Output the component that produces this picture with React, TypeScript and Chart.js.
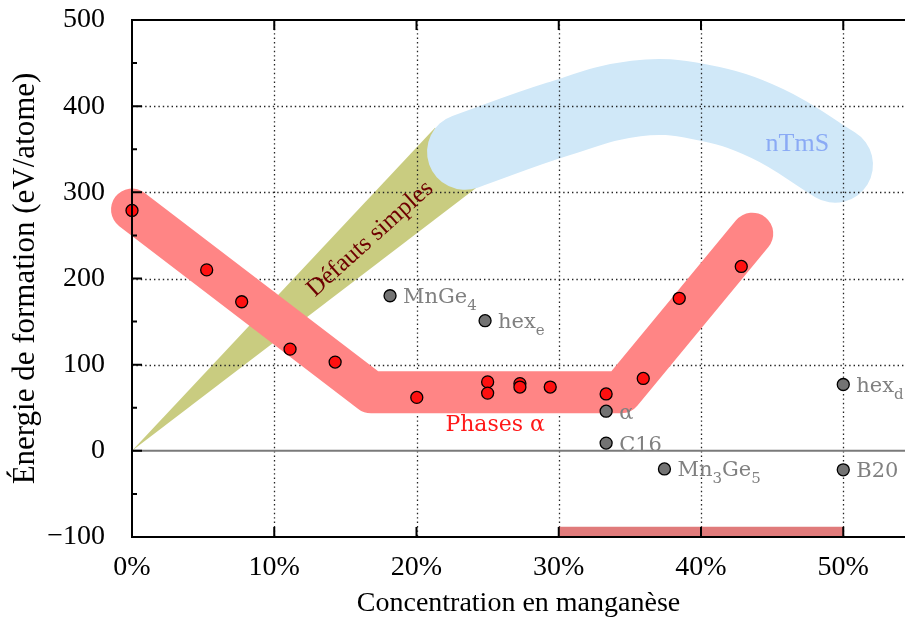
import React, { useEffect, useRef } from 'react';
import { Chart, registerables } from 'chart.js';

Chart.register(...registerables);

// ---- axes ----
const X_TICKS = [0, 0.1, 0.2, 0.3, 0.4, 0.5];
const Y_TICKS = [-100, 0, 100, 200, 300, 400, 500];
const Y_MINOR = [-50, 50, 150, 250, 350, 450];
const X_MIN = 0;
const X_MAX = 0.5434;
const Y_MIN = -100;
const Y_MAX = 500;

// ---- red points (phases alpha) ----
const RED_X = [0, 0.0525, 0.0771, 0.1111, 0.1428, 0.2002, 0.25, 0.25, 0.2727, 0.2727, 0.294, 0.3333, 0.3594, 0.3847, 0.4283];
const RED_Y = [279, 210, 173, 118, 103, 62, 80, 67, 78, 74, 74, 66, 84, 177, 214];

// ---- grey points (other structures) ----
const GREY_X = [0.1814, 0.2482, 0.3333, 0.3333, 0.3743, 0.5, 0.5];
const GREY_Y = [180, 151, 46, 9, -21, 77, -22];
const GREY_LABELS = ['MnGe_4', 'hex_e', 'α', 'C16', 'Mn_3Ge_5', 'hex_d', 'B20'];

// ---- shaded regions ----
const OLIVE_X = [0, 0.213, 0.2342, 0.2467];
const OLIVE_Y = [0, 375, 346, 311];
const BLUE_X = [0.2341, 0.2995, 0.3543, 0.3993, 0.4464, 0.4942];
const BLUE_Y = [347, 385, 409, 405, 380, 332];
const BAND_X = [0, 0.168, 0.344, 0.436];
const BAND_Y = [280, 68, 68, 252];
const BAR_X = [0.3, 0.3, 0.5, 0.5];
const BAR_Y = [-100, -88, -88, -100];

// ---- notes ----
const NOTE_TEXT = ['Phases α', 'nTmS', 'Défauts simples'];
const NOTE_X = [0.2553, 0.4677, 0.1674];
const NOTE_Y = [30, 356, 246];

const BLUE_INDEX = 1;
const SERIF = '"Liberation Serif", "Times New Roman", serif';
const DSERIF = '"DejaVu Serif", serif';

const pts = (xs: number[], ys: number[]) => xs.map((x, i) => ({ x, y: ys[i] }));

function drawRich(ctx: CanvasRenderingContext2D, text: string, x: number, y: number, size: number, sub: number) {
  const runs: { t: string; s: boolean }[] = [];
  for (let i = 0; i < text.length; i++) {
    if (text[i] === '_' && i + 1 < text.length) {
      runs.push({ t: text[i + 1], s: true });
      i++;
    } else {
      const last = runs[runs.length - 1];
      if (last && !last.s) last.t += text[i];
      else runs.push({ t: text[i], s: false });
    }
  }
  let cx = x;
  ctx.textAlign = 'left';
  ctx.textBaseline = 'alphabetic';
  const base = y + size * 0.36;
  for (const r of runs) {
    ctx.font = `${r.s ? sub : size}px ${DSERIF}`;
    ctx.fillText(r.t, cx, r.s ? base + 7 : base);
    cx += ctx.measureText(r.t).width;
  }
}

const noPad = (s: any) => {
  s.paddingTop = 0;
  s.paddingBottom = 0;
  s.paddingLeft = 0;
  s.paddingRight = 0;
};

const layerPlugin = {
  id: 'layers',
  afterDatasetDraw(chart: any, args: any) {
    if (args.index !== BLUE_INDEX) return;
    const { ctx, chartArea: a, scales } = chart;
    const sx = scales.x, sy = scales.y;
    ctx.save();
    ctx.strokeStyle = '#222';
    ctx.lineWidth = 1.3;
    ctx.setLineDash([1.4, 3]);
    for (const v of X_TICKS) {
      if (v <= X_MIN) continue;
      const p = Math.round(sx.getPixelForValue(v)) + 0.5;
      ctx.beginPath();
      ctx.moveTo(p, a.top);
      ctx.lineTo(p, a.bottom);
      ctx.stroke();
    }
    for (const v of Y_TICKS) {
      if (v <= 0 || v >= Y_MAX) continue;
      const p = Math.round(sy.getPixelForValue(v)) + 0.5;
      ctx.beginPath();
      ctx.moveTo(a.left, p);
      ctx.lineTo(a.right, p);
      ctx.stroke();
    }
    ctx.setLineDash([]);
    ctx.strokeStyle = '#7a7a7a';
    ctx.lineWidth = 2;
    const z = sy.getPixelForValue(0);
    ctx.beginPath();
    ctx.moveTo(a.left, z);
    ctx.lineTo(a.right, z);
    ctx.stroke();
    ctx.restore();
  },
  afterDatasetsDraw(chart: any) {
    const { ctx, chartArea: a, scales } = chart;
    const sx = scales.x, sy = scales.y;
    ctx.save();
    // grey labels
    ctx.fillStyle = '#808080';
    GREY_LABELS.forEach((lab, i) => {
      drawRich(ctx, lab, sx.getPixelForValue(GREY_X[i]) + 13, sy.getPixelForValue(GREY_Y[i]), 21, 15);
    });
    // Phases alpha
    ctx.textAlign = 'center';
    ctx.textBaseline = 'middle';
    ctx.fillStyle = '#ff1a1a';
    ctx.font = `22px ${DSERIF}`;
    ctx.fillText(NOTE_TEXT[0], sx.getPixelForValue(NOTE_X[0]), sy.getPixelForValue(NOTE_Y[0]));
    // nTmS
    ctx.fillStyle = '#8aaaf5';
    ctx.font = `26px ${SERIF}`;
    ctx.fillText(NOTE_TEXT[1], sx.getPixelForValue(NOTE_X[1]), sy.getPixelForValue(NOTE_Y[1]));
    // Defauts simples
    ctx.save();
    ctx.translate(sx.getPixelForValue(NOTE_X[2]), sy.getPixelForValue(NOTE_Y[2]));
    ctx.rotate((-42 * Math.PI) / 180);
    ctx.fillStyle = '#6e0000';
    ctx.font = `25px ${SERIF}`;
    ctx.fillText(NOTE_TEXT[2], 0, 0);
    ctx.restore();

    // frame
    ctx.strokeStyle = '#000';
    ctx.lineWidth = 2;
    ctx.beginPath();
    ctx.moveTo(a.right + 2, a.top);
    ctx.lineTo(a.left, a.top);
    ctx.lineTo(a.left, a.bottom);
    ctx.lineTo(a.right + 2, a.bottom);
    ctx.stroke();
    ctx.beginPath();
    for (const v of X_TICKS) {
      const p = sx.getPixelForValue(v);
      ctx.moveTo(p, a.bottom);
      ctx.lineTo(p, a.bottom - 10);
      ctx.moveTo(p, a.top);
      ctx.lineTo(p, a.top + 10);
    }
    for (const v of Y_TICKS) {
      const p = sy.getPixelForValue(v);
      ctx.moveTo(a.left, p);
      ctx.lineTo(a.left + 10, p);
    }
    for (const v of Y_MINOR) {
      const p = sy.getPixelForValue(v);
      ctx.moveTo(a.left, p);
      ctx.lineTo(a.left + 5, p);
    }
    ctx.stroke();
    ctx.restore();
  },
};

export default function App() {
  const ref = useRef<HTMLCanvasElement>(null);
  useEffect(() => {
    const canvas = ref.current;
    if (!canvas) return;
    const chart = new Chart(canvas, {
      type: 'line',
      data: {
        datasets: [
          {
            label: 'Défauts simples',
            data: pts(OLIVE_X, OLIVE_Y),
            fill: 'shape',
            backgroundColor: '#c9cc80',
            borderColor: 'rgba(0,0,0,0)',
            borderWidth: 0,
            pointRadius: 0,
            order: 5,
            clip: false,
          },
          {
            label: 'nTmS',
            data: pts(BLUE_X, BLUE_Y),
            borderColor: '#d0e8f8',
            borderWidth: 76,
            borderCapStyle: 'round',
            borderJoinStyle: 'round',
            tension: 0.4,
            pointRadius: 0,
            fill: false,
            order: 4,
            clip: false,
          },
          {
            label: 'Phases α (bande)',
            data: pts(BAND_X, BAND_Y),
            borderColor: '#ff8585',
            borderWidth: 42,
            borderCapStyle: 'round',
            borderJoinStyle: 'round',
            tension: 0,
            pointRadius: 0,
            fill: false,
            order: 3,
            clip: false,
          },
          {
            label: 'barre',
            data: pts(BAR_X, BAR_Y),
            fill: 'shape',
            backgroundColor: '#e07b7b',
            borderColor: 'rgba(0,0,0,0)',
            borderWidth: 0,
            pointRadius: 0,
            order: 3,
          },
          {
            label: 'autres',
            data: pts(GREY_X, GREY_Y),
            showLine: false,
            pointRadius: 6,
            pointBackgroundColor: '#737373',
            pointBorderColor: '#000',
            pointBorderWidth: 1.3,
            order: 1,
            clip: false,
          },
          {
            label: 'Phases α',
            data: pts(RED_X, RED_Y),
            showLine: false,
            pointRadius: 6,
            pointBackgroundColor: '#ff1010',
            pointBorderColor: '#000',
            pointBorderWidth: 1.3,
            order: 0,
            clip: false,
          },
        ],
      },
      options: {
        responsive: false,
        animation: false,
        events: [],
        layout: { autoPadding: false, padding: { top: 20, left: 0, right: 0, bottom: 0 } },
        plugins: { legend: { display: false }, tooltip: { enabled: false } },
        scales: {
          x: {
            type: 'linear',
            min: X_MIN,
            max: X_MAX,
            grid: { display: false },
            border: { display: false },
            ticks: {
              stepSize: 0.1,
              includeBounds: false,
              autoSkip: false,
              maxRotation: 0,
              padding: 6,
              color: '#000',
              font: { family: SERIF, size: 28 },
              callback: (v: any) => Math.round(Number(v) * 100) + '%',
            },
            title: {
              display: true,
              text: 'Concentration en manganèse',
              color: '#000',
              font: { family: SERIF, size: 28 },
              padding: { top: 0, bottom: 8 },
            },
            afterFit: (s: any) => {
              s.height = 91;
              noPad(s);
            },
          },
          y: {
            min: Y_MIN,
            max: Y_MAX,
            grid: { display: false },
            border: { display: false },
            ticks: {
              stepSize: 100,
              padding: 19,
              color: '#000',
              font: { family: SERIF, size: 28 },
              callback: (v: any) => String(v).replace('-', '\u2212'),
            },
            title: {
              display: true,
              text: 'Énergie de formation (eV/atome)',
              color: '#000',
              font: { family: SERIF, size: 31 },
              padding: { top: 7, bottom: 0 },
            },
            afterFit: (s: any) => {
              s.width = 132;
              noPad(s);
            },
          },
        },
      },
      plugins: [layerPlugin],
    } as any);
    return () => chart.destroy();
  }, []);
  return (
    <div style={{ position: 'absolute', left: 0, top: 0, width: 905, height: 628, overflow: 'hidden', background: '#fff' }}>
      <canvas ref={ref} width={905} height={628} style={{ display: 'block' }} />
    </div>
  );
}
